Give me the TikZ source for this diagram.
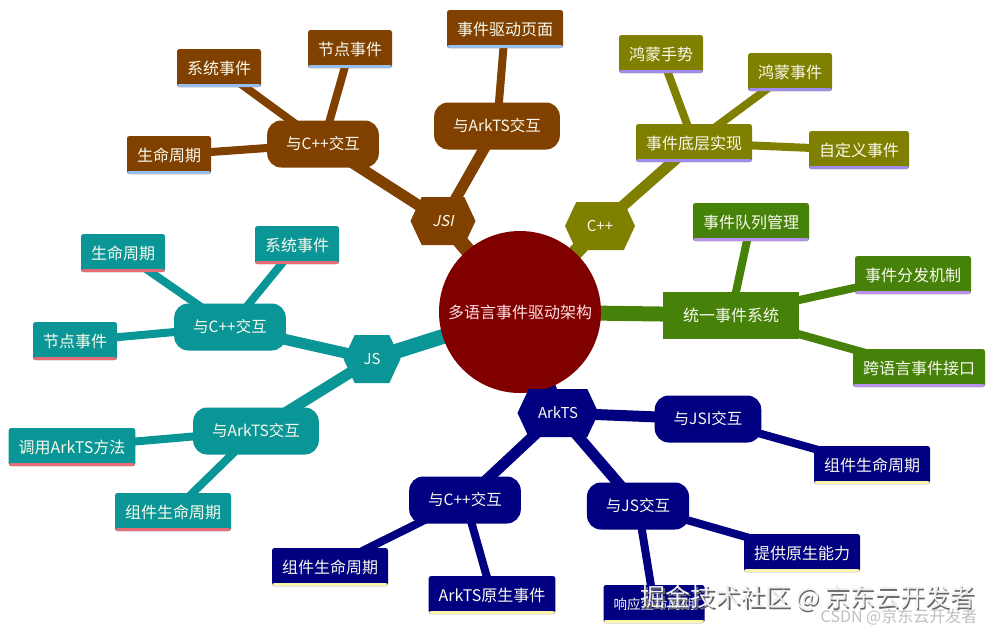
\documentclass[tikz,border=0pt]{standalone}
\usepackage{fontspec}
\setmainfont{Noto Sans CJK SC}
\newfontfamily\slantcjk[FakeSlant=0.2]{Noto Sans CJK SC}
\usepackage{tikz}
\usetikzlibrary{shapes.symbols,backgrounds}
\definecolor{ink}{RGB}{250,250,238}
\definecolor{root}{RGB}{128,0,0}
\definecolor{rootink}{RGB}{255,222,222}
\definecolor{jsib}{RGB}{128,64,0}
\definecolor{jsiline}{RGB}{150,190,240}
\definecolor{cppb}{RGB}{128,128,0}
\definecolor{cppline}{RGB}{160,140,235}
\definecolor{unib}{RGB}{70,130,10}
\definecolor{uniline}{RGB}{185,145,235}
\definecolor{jsb}{RGB}{10,150,150}
\definecolor{jsline}{RGB}{232,108,120}
\definecolor{arkb}{RGB}{0,0,128}
\definecolor{arkline}{RGB}{250,245,170}
\tikzset{
  hexa/.style={
    signal, signal to=east and west, signal pointer angle=130,
    fill=#1, minimum height=48pt, inner xsep=8pt, inner ysep=0pt,
    font=\fontsize{15}{18}\selectfont, text=ink,
  },
  topic/.style={
    fill=#1, rounded corners=14pt, minimum height=47pt,
    inner xsep=19pt, inner ysep=0pt,
    font=\fontsize{15.5}{18}\selectfont, text=ink,
  },
  hub/.style={
    fill=#1, minimum height=47pt, inner xsep=20pt, inner ysep=0pt,
    font=\fontsize{16}{19}\selectfont, text=ink,
  },
  leaf/.style 2 args={
    fill=#1, rounded corners=2.5pt, minimum height=38pt,
    inner xsep=10pt, inner ysep=0pt,
    font=\fontsize{16}{19}\selectfont, text=ink,
    path picture={\fill[#2] (path picture bounding box.south west)
      rectangle ([yshift=3pt]path picture bounding box.south east);},
  },
  trunk/.style={line width=15pt, draw=#1},
  bough/.style={line width=11pt, draw=#1},
  twig/.style={line width=8pt, draw=#1},
}

\begin{document}
\begin{tikzpicture}[x=1pt,y=-1pt]
  \useasboundingbox (0,0) rectangle (995,633);

  \node[circle, fill=root, minimum size=162pt, inner sep=0pt,
    font=\fontsize{16}{19}\selectfont, text=rootink] (core) at (520,312) {多语言事件驱动架构};

  % JSI
  \node[hexa=jsib, minimum width=65pt] (jsi) at (443,221) {\slantcjk JSI};
  \node[topic=jsib] (jsicpp) at (323,144) {与C++交互};
  \node[topic=jsib] (jsiark) at (497,126) {与ArkTS交互};
  \node[leaf={jsib}{jsiline}] (jsipage) at (505,29) {事件驱动页面};
  \node[leaf={jsib}{jsiline}] (jsinode) at (350,49) {节点事件};
  \node[leaf={jsib}{jsiline}] (jsisys) at (219,68) {系统事件};
  \node[leaf={jsib}{jsiline}] (jsilife) at (169,155) {生命周期};

  % C++
  \node[hexa=cppb, minimum width=70pt] (cpp) at (600,226) {C++};
  \node[leaf={cppb}{cppline}] (cppimpl) at (694,143) {事件底层实现};
  \node[leaf={cppb}{cppline}] (cppgest) at (661,54) {鸿蒙手势};
  \node[leaf={cppb}{cppline}] (cppevt) at (790,72) {鸿蒙事件};
  \node[leaf={cppb}{cppline}] (cppcust) at (859,150) {自定义事件};

  % unified system
  \node[hub=unib] (uni) at (731,315) {统一事件系统};
  \node[leaf={unib}{uniline}] (uniqueue) at (751,222) {事件队列管理};
  \node[leaf={unib}{uniline}] (unidisp) at (913,275) {事件分发机制};
  \node[leaf={unib}{uniline}] (uniport) at (919,368) {跨语言事件接口};

  % JS
  \node[hexa=jsb, minimum width=57pt] (js) at (372,359) {JS};
  \node[topic=jsb] (jscpp) at (230,327) {与C++交互};
  \node[topic=jsb] (jsark) at (256,431) {与ArkTS交互};
  \node[leaf={jsb}{jsline}] (jslife) at (123,253) {生命周期};
  \node[leaf={jsb}{jsline}] (jssys) at (297,245) {系统事件};
  \node[leaf={jsb}{jsline}] (jsnode) at (75,341) {节点事件};
  \node[leaf={jsb}{jsline}] (jscall) at (72,447) {调用ArkTS方法};
  \node[leaf={jsb}{jsline}] (jscomp) at (173,512) {组件生命周期};

  % ArkTS
  \node[hexa=arkb, minimum width=81pt] (ark) at (558,413) {ArkTS};
  \node[topic=arkb] (arkjsi) at (708,419) {与JSI交互};
  \node[topic=arkb] (arkcpp) at (465,500) {与C++交互};
  \node[topic=arkb] (arkjs) at (638,506) {与JS交互};
  \node[leaf={arkb}{arkline}] (arkjsicomp) at (872,465) {组件生命周期};
  \node[leaf={arkb}{arkline}] (arkcppcomp) at (330,567) {组件生命周期};
  \node[leaf={arkb}{arkline}] (arkcppnat) at (492,595) {ArkTS原生事件};
  \node[leaf={arkb}{arkline}] (arkjsnat) at (802,553) {提供原生能力};
  \node[leaf={arkb}{arkline}, font=\fontsize{13.5}{16}\selectfont] (arkjsresp) at (654,604) {响应生命周期};

  \begin{pgfonlayer}{background}
    \draw[trunk=jsib] (core.center) -- (jsi.center);
    \draw[bough=jsib] (jsi.center) -- (jsicpp.center);
    \draw[bough=jsib] (jsi.center) -- (jsiark.center);
    \draw[twig=jsib] (jsiark.center) -- (jsipage.center);
    \draw[twig=jsib] (jsicpp.center) -- (jsinode.center);
    \draw[twig=jsib] (jsicpp.center) -- (jsisys.center);
    \draw[twig=jsib] (jsicpp.center) -- (jsilife.center);

    \draw[trunk=cppb] (core.center) -- (cpp.center);
    \draw[bough=cppb] (cpp.center) -- (cppimpl.center);
    \draw[twig=cppb] (cppimpl.center) -- (cppgest.center);
    \draw[twig=cppb] (cppimpl.center) -- (cppevt.center);
    \draw[twig=cppb] (cppimpl.center) -- (cppcust.center);

    \draw[trunk=unib] (core.center) -- (uni.center);
    \draw[twig=unib] (uni.center) -- (uniqueue.center);
    \draw[twig=unib] (uni.center) -- (unidisp.center);
    \draw[twig=unib] (uni.center) -- (uniport.center);

    \draw[trunk=jsb] (core.center) -- (js.center);
    \draw[bough=jsb] (js.center) -- (jscpp.center);
    \draw[bough=jsb] (js.center) -- (jsark.center);
    \draw[twig=jsb] (jscpp.center) -- (jslife.center);
    \draw[twig=jsb] (jscpp.center) -- (jssys.center);
    \draw[twig=jsb] (jscpp.center) -- (jsnode.center);
    \draw[twig=jsb] (jsark.center) -- (jscall.center);
    \draw[twig=jsb] (jsark.center) -- (jscomp.center);

    \draw[trunk=arkb] (core.center) -- (ark.center);
    \draw[bough=arkb] (ark.center) -- (arkjsi.center);
    \draw[bough=arkb] (ark.center) -- (arkcpp.center);
    \draw[bough=arkb] (ark.center) -- (arkjs.center);
    \draw[twig=arkb] (arkjsi.center) -- (arkjsicomp.center);
    \draw[twig=arkb] (arkcpp.center) -- (arkcppcomp.center);
    \draw[twig=arkb] (arkcpp.center) -- (arkcppnat.center);
    \draw[twig=arkb] (arkjs.center) -- (arkjsnat.center);
    \draw[twig=arkb] (arkjs.center) -- (arkjsresp.center);
  \end{pgfonlayer}

  % watermarks
  \node[font=\fontsize{25}{28}\selectfont, text=white!94!black] (wm) at (808,599)
    {\rlap{\kern1.5pt\raisebox{-1.5pt}{\color{black!60}掘金技术社区 @ 京东云开发者}}掘金技术社区 @ 京东云开发者};
  \node[font=\fontsize{16}{19}\selectfont, text=black!25] (csdn) at (899,617) {CSDN @京东云开发者};
\end{tikzpicture}
\end{document}
